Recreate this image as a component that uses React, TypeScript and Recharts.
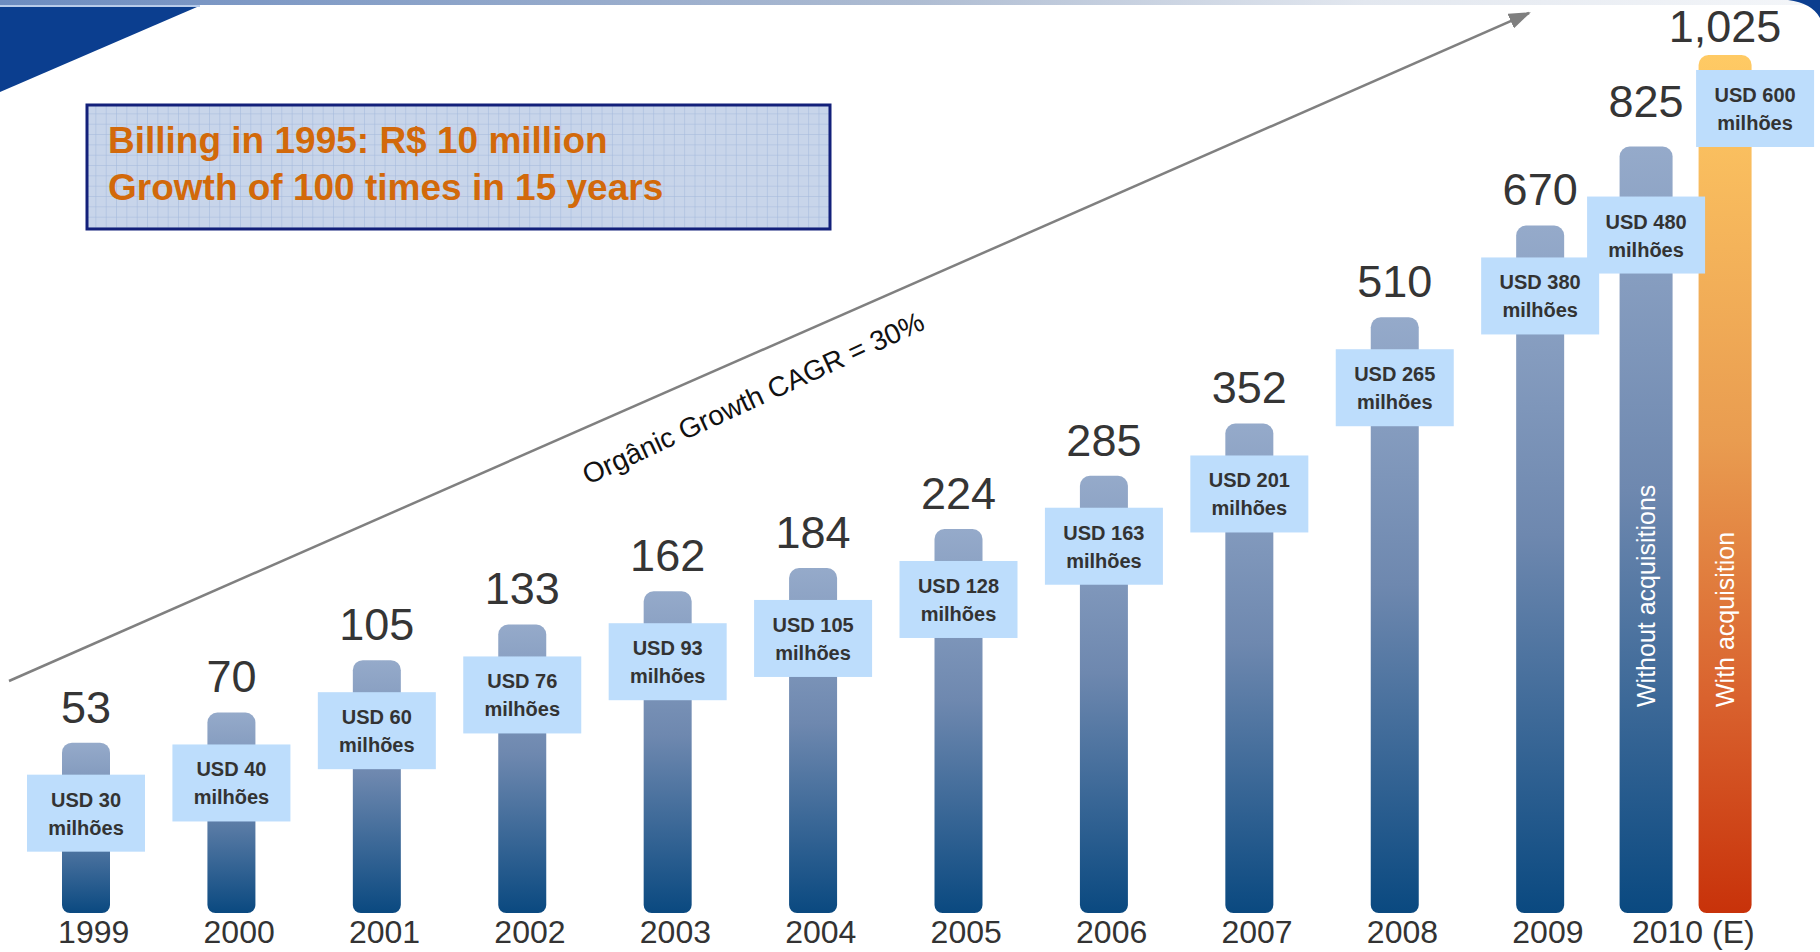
import React from 'react';
import { BarChart, Bar, XAxis, YAxis, LabelList } from 'recharts';

// ---------- data ----------
const years = ['1999', '2000', '2001', '2002', '2003', '2004', '2005', '2006', '2007', '2008', '2009', '2010 (E)'];
const organicRevenue = [53, 70, 105, 133, 162, 184, 224, 285, 352, 510, 670, 825];
const organicUsd = [30, 40, 60, 76, 93, 105, 128, 163, 201, 265, 380, 480];
const acquisitionRevenue: (number | null)[] = [null, null, null, null, null, null, null, null, null, null, null, 1025];
const acquisitionUsd: (number | null)[] = [null, null, null, null, null, null, null, null, null, null, null, 600];
const noteWithout = 'Without acquisitions';
const noteWith = 'With acquisition';
const headline = ['Billing in 1995: R$ 10 million', 'Growth of 100 times in 15 years'];
const cagrText = 'Orgânic Growth CAGR = 30%';

const W = 1820;
const H = 952;
const lastIdx = years.length - 1;

const rows = years.map((year, i) => ({
  year,
  organic: i < lastIdx ? organicRevenue[i] : null,
  organicEst: i === lastIdx ? organicRevenue[i] : null,
  acquisition: acquisitionRevenue[i],
}));

const VALUE_FONT = "'Liberation Sans', Arial, sans-serif";

const fmt = (v: number) => v.toLocaleString('en-US');

type LabelOpts = { boxDx: number; boxGap: number; valueGap: number; note?: string };

const makeLabel = (values: (number | null)[], usd: (number | null)[], opts: LabelOpts) => (props: any) => {
  const { value } = props;
  if (value == null || value === '') return null;
  const vb = props.viewBox ?? props;
  const x = Number(vb.x);
  const y = Number(vb.y);
  const w = Number(vb.width);
  const h = Number(vb.height);
  if (!isFinite(x) || !isFinite(y)) return null;
  const idx = values.indexOf(Number(value));
  const cx = x + w / 2;
  const u = idx >= 0 ? usd[idx] : null;
  const boxW = 118;
  const boxH = 77;
  const bcx = cx + opts.boxDx;
  const by = y + opts.boxGap;
  const bottom = y + h;
  return (
    <g>
      <text x={cx} y={y - opts.valueGap} textAnchor="middle" fontFamily={VALUE_FONT} fontSize={45} fill="#353535">
        {fmt(Number(value))}
      </text>
      {u != null && (
        <g>
          <rect x={bcx - boxW / 2} y={by} width={boxW} height={boxH} fill="#BDDDFC" />
          <text x={bcx} y={by + boxH / 2 - 6.5} textAnchor="middle" fontFamily={VALUE_FONT} fontWeight="bold" fontSize={20} fill="#333">
            {`USD ${u}`}
          </text>
          <text x={bcx} y={by + boxH / 2 + 21.5} textAnchor="middle" fontFamily={VALUE_FONT} fontWeight="bold" fontSize={20} fill="#333">
            milhões
          </text>
        </g>
      )}
      {opts.note && (
        <text
          x={cx + 9}
          y={bottom - 206}
          transform={`rotate(-90 ${cx + 9} ${bottom - 206})`}
          fontFamily={VALUE_FONT}
          fontSize={25}
          fill="#FFFFFF"
        >
          {opts.note}
        </text>
      )}
    </g>
  );
};

const YearTick = (p: any) => (
  <text x={p.x + 8} y={p.y + 30} textAnchor="middle" fontFamily={VALUE_FONT} fontSize={32} fill="#333">
    {p.payload.value}
  </text>
);

const Decorations = () => (
  <svg width={W} height={H} style={{ position: 'absolute', left: 0, top: 0 }}>
    <defs>
      <linearGradient id="gradBlue" x1="0" y1="0" x2="0" y2="1">
        <stop offset="0" stopColor="#95AACA" />
        <stop offset="0.45" stopColor="#6E88AF" />
        <stop offset="1" stopColor="#0A4980" />
      </linearGradient>
      <linearGradient id="gradOrange" x1="0" y1="0" x2="0" y2="1">
        <stop offset="0" stopColor="#FFCA64" />
        <stop offset="0.45" stopColor="#E99C50" />
        <stop offset="0.75" stopColor="#D9622E" />
        <stop offset="1" stopColor="#C8320A" />
      </linearGradient>
      <linearGradient id="gradStrip" x1="0" y1="0" x2="1" y2="0">
        <stop offset="0" stopColor="#6C8CC0" />
        <stop offset="0.5" stopColor="#AEBCD2" />
        <stop offset="0.75" stopColor="#E2E7EF" />
        <stop offset="1" stopColor="#F4F6F9" />
      </linearGradient>
      <pattern id="gridPat" x="86" y="104" width="10.33" height="10.33" patternUnits="userSpaceOnUse">
        <rect width="10.33" height="10.33" fill="#C8D5EA" />
        <path d="M 10.33 0 V 10.33 M 0 10.33 H 10.33" stroke="#A2B7DB" strokeWidth="1" />
      </pattern>
      <marker id="arrowHead" markerWidth="22" markerHeight="16" refX="20" refY="8" orient="auto" markerUnits="userSpaceOnUse">
        <path d="M0,0 L22,8 L0,16 Z" fill="#7F7F7F" />
      </marker>
    </defs>
    <rect x={0} y={0} width={W} height={5} fill="url(#gradStrip)" />
    <rect x={0} y={5} width={200} height={2} fill="#B8CCEA" />
    <path d="M0,7 L197,7 L0,92 Z" fill="#0B3E8F" />
    <path d="M1788,0 L1820,0 L1820,18 Q1812,3 1788,0 Z" fill="#0B3E8F" />
    <rect x={87} y={105} width={743} height={124} fill="url(#gridPat)" stroke="#13207A" strokeWidth={3} />
    <text x={108} y={153} fontFamily={VALUE_FONT} fontWeight="bold" fontSize={37} fill="#D2690A">
      {headline[0]}
    </text>
    <text x={108} y={200} fontFamily={VALUE_FONT} fontWeight="bold" fontSize={37} fill="#D2690A">
      {headline[1]}
    </text>
    <line x1={9} y1={681} x2={1529} y2={13} stroke="#808080" strokeWidth={2.5} markerEnd="url(#arrowHead)" />
    <text x={588} y={485} transform="rotate(-24.8 588 485)" fontFamily={VALUE_FONT} fontSize={28} fill="#111">
      {cagrText}
    </text>
  </svg>
);

export default function App() {
  return (
    <div style={{ position: 'absolute', left: 0, top: 0, width: W, height: H, background: '#FFFFFF', overflow: 'hidden' }}>
      <Decorations />
      <div style={{ position: 'absolute', left: 0, top: 0 }}>
        <BarChart width={W} height={H} data={rows} margin={{ top: 55, right: 62, bottom: 0, left: 13 }} barGap={26}>
          <XAxis
            xAxisId="a"
            dataKey="year"
            height={39}
            interval={0}
            tickSize={0}
            tickMargin={0}
            axisLine={false}
            tickLine={false}
            tick={YearTick}
          />
          <XAxis xAxisId="b" dataKey="year" hide />
          <YAxis hide type="number" scale="sqrt" domain={[1.33, 1025]} />
          <Bar xAxisId="a" dataKey="organic" barSize={48} fill="url(#gradBlue)" radius={[10, 10, 8, 8]} isAnimationActive={false}>
            <LabelList dataKey="organic" content={makeLabel(organicRevenue, organicUsd, { boxDx: 0, boxGap: 32, valueGap: 20 })} />
          </Bar>
          <Bar xAxisId="b" dataKey="organicEst" barSize={53} fill="url(#gradBlue)" radius={[10, 10, 8, 8]} isAnimationActive={false}>
            <LabelList dataKey="organicEst" content={makeLabel(organicRevenue, organicUsd, { boxDx: 0, boxGap: 50, valueGap: 30, note: noteWithout })} />
          </Bar>
          <Bar xAxisId="b" dataKey="acquisition" barSize={53} fill="url(#gradOrange)" radius={[10, 10, 8, 8]} isAnimationActive={false}>
            <LabelList dataKey="acquisition" content={makeLabel(acquisitionRevenue, acquisitionUsd, { boxDx: 30, boxGap: 15, valueGap: 13, note: noteWith })} />
          </Bar>
        </BarChart>
      </div>
    </div>
  );
}
